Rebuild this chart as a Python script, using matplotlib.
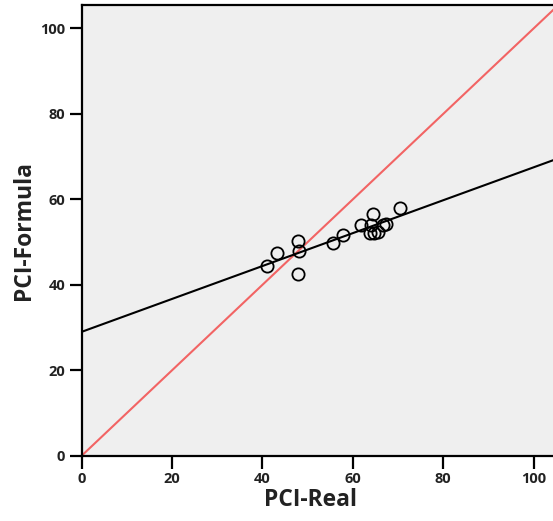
import numpy as np
import matplotlib.pyplot as plt

# === 数据 ===
pci_real = [41.1, 43.2, 47.8, 48.2, 47.8, 55.6, 57.8, 61.8, 64.4,
            63.7, 64.7, 65.6, 64.0, 66.6, 67.4, 70.5]
pci_formula = [44.4, 47.4, 50.3, 47.9, 42.5, 49.7, 51.6, 54.0, 56.5,
               52.2, 52.2, 52.4, 54.1, 54.1, 54.2, 57.9]

# 拟合线
fit_intercept = 29.0
fit_slope = 0.385

ticks = [0, 20, 40, 60, 80, 100]

plt.rcParams['font.family'] = ['Open Sans', 'DejaVu Sans']

fig = plt.figure(figsize=(5.53, 5.21), dpi=100)
ax = fig.add_axes([0.1477, 0.1253, 0.858, 0.8651])
ax.set_facecolor('#efefef')

xx = np.array([0, 105])
ax.plot(xx, xx, color='#f26464', lw=1.5, zorder=2)
ax.plot(xx, fit_intercept + fit_slope * xx, color='black', lw=1.5, zorder=3)
ax.plot(pci_real, pci_formula, 'o', mfc='none', mec='black', ms=8.8, mew=1.3, zorder=4)

ax.set_xlim(0, 105)
ax.set_ylim(0, 105.5)
ax.set_xticks(ticks)
ax.set_yticks(ticks)
ax.tick_params(direction='out', length=9, width=1.6, labelsize=10.5, pad=3)
for lab in ax.get_xticklabels() + ax.get_yticklabels():
    lab.set_fontweight('bold')
    lab.set_color('#222222')
for s in ax.spines.values():
    s.set_linewidth(1.6)
ax.spines['right'].set_visible(False)

ax.set_xlabel('PCI-Real', fontsize=16.5, fontweight='bold', color='#222222')
ax.set_ylabel('PCI-Formula', fontsize=16.5, fontweight='bold', color='#222222', labelpad=3)
ax.xaxis.set_label_coords(0.482, -0.072)

plt.savefig('out.png', dpi=100)
plt.close()
